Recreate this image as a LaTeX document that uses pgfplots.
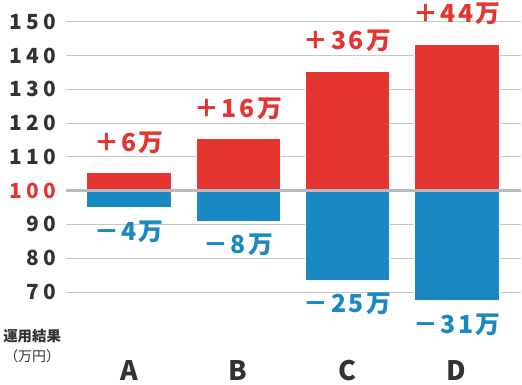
\documentclass[border=0pt]{standalone}
\usepackage{fontspec}
\usepackage{pgfplots}
\pgfplotsset{compat=1.18}
\setmainfont{Noto Sans CJK JP}
\newfontfamily\tickfont{Noto Sans CJK JP}[LetterSpace=20]
\newfontfamily\lblfont{Noto Sans CJK JP}[LetterSpace=10]
\definecolor{myred}{HTML}{E53530}
\definecolor{myblue}{HTML}{1A88C2}
\definecolor{txt}{HTML}{333333}
\begin{document}
\begin{tikzpicture}
\begin{axis}[
  scale only axis, width=458pt, height=355pt,
  xmin=-0.577, xmax=3.586, ymin=-48.4, ymax=56,
  axis line style={draw=none}, major tick length=0pt,
  xtick={0,1,2,3}, xticklabels={A,B,C,D},
  xticklabel style={font=\fontsize{27}{27}\selectfont\bfseries, color=txt, anchor=base, yshift=-27pt},
  ytick={-30,-20,...,50},
  yticklabels={70,80,90,\textcolor{myred}{100},110,120,130,140,150},
  yticklabel style={font=\tickfont\fontsize{21}{21}\selectfont\bfseries, color=txt, anchor=east, inner sep=0pt, xshift=-10pt},
  ymajorgrids, grid style={color=black!22, line width=0.8pt},
  clip=false,
]
\addplot[ybar, bar width=85pt, bar shift=0pt, fill=myred, draw=white, line width=0.5pt,
  nodes near coords, point meta=explicit symbolic,
  nodes near coords style={font=\lblfont\fontsize{25}{25}\selectfont\bfseries, color=myred, anchor=center, yshift=30pt}]
  coordinates {(0,5.4) [＋6万] (1,15.5) [＋16万] (2,35.4) [＋36万] (3,43.4) [＋44万]};
\addplot[ybar, bar width=85pt, bar shift=0pt, fill=myblue, draw=white, line width=0.8pt,
  nodes near coords, point meta=explicit symbolic,
  nodes near coords style={font=\lblfont\fontsize{25}{25}\selectfont\bfseries, color=myblue, anchor=center, yshift=-24pt}]
  coordinates {(0,-5) [－4万] (1,-9) [－8万] (2,-26.5) [－25万] (3,-32.6) [－31万]};
\addplot[sharp plot, mark=none, draw=black!27, line width=2.4pt]
  coordinates {(-0.577,0) (3.586,0)};
\node[font=\fontsize{14.5}{15}\selectfont\bfseries, color=txt] at (axis cs:-0.886,-43.1) {運用結果};
\node[font=\fontsize{14}{15}\selectfont, color=txt] at (axis cs:-0.886,-49) {（万円）};
\end{axis}
\end{tikzpicture}
\end{document}
